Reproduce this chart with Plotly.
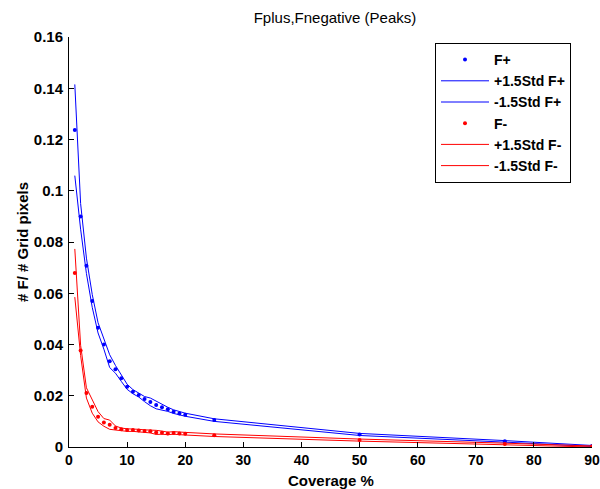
import plotly.graph_objects as go

coverage = [1, 2, 3, 4, 5, 6, 7, 8, 9, 10, 11, 12, 13, 14, 15, 16, 17, 18, 19, 20, 25, 50, 75, 90]

fplus = [0.1237, 0.0900, 0.0707, 0.0570, 0.0465, 0.0400, 0.0335, 0.0303, 0.0268, 0.0235,
         0.0216, 0.0203, 0.0187, 0.0176, 0.0164, 0.0155, 0.0147, 0.0138, 0.0131, 0.0126,
         0.0105, 0.0049, 0.0022, 0.0004]
fplus_up = [0.1415, 0.0950, 0.0737, 0.0595, 0.0485, 0.0418, 0.0360, 0.0318, 0.0280, 0.0245,
            0.0224, 0.0211, 0.0197, 0.0191, 0.0179, 0.0165, 0.0155, 0.0145, 0.0138, 0.0132,
            0.0110, 0.0053, 0.0025, 0.0006]
fplus_lo = [0.1059, 0.0850, 0.0677, 0.0545, 0.0445, 0.0382, 0.0310, 0.0288, 0.0256, 0.0225,
            0.0208, 0.0195, 0.0177, 0.0161, 0.0149, 0.0145, 0.0139, 0.0131, 0.0124, 0.0120,
            0.0100, 0.0045, 0.0019, 0.0002]

fneg = [0.0679, 0.0377, 0.0211, 0.0157, 0.0118, 0.0096, 0.0087, 0.0074, 0.0069, 0.0066,
        0.0066, 0.0064, 0.0062, 0.0061, 0.0057, 0.0056, 0.0053, 0.0055, 0.0053, 0.0052,
        0.0046, 0.0027, 0.0012, 0.0002]
fneg_up = [0.0773, 0.0397, 0.0231, 0.0182, 0.0138, 0.0111, 0.0105, 0.0082, 0.0074, 0.0071,
           0.0071, 0.0069, 0.0067, 0.0067, 0.0065, 0.0062, 0.0058, 0.0060, 0.0058, 0.0057,
           0.0051, 0.0031, 0.0015, 0.0004]
fneg_lo = [0.0585, 0.0357, 0.0191, 0.0132, 0.0098, 0.0081, 0.0069, 0.0066, 0.0064, 0.0061,
           0.0061, 0.0059, 0.0057, 0.0055, 0.0049, 0.0050, 0.0048, 0.0050, 0.0048, 0.0047,
           0.0041, 0.0023, 0.0009, 0.0000]

x_ticks = [0, 10, 20, 30, 40, 50, 60, 70, 80, 90]
y_ticks = [0, 0.02, 0.04, 0.06, 0.08, 0.1, 0.12, 0.14, 0.16]
y_tick_text = ["0", "0.02", "0.04", "0.06", "0.08", "0.1", "0.12", "0.14", "0.16"]

BLUE = "#0000ff"
RED = "#ff0000"
FONT = "Liberation Sans, Arial, sans-serif"

fig = go.Figure()
fig.add_trace(go.Scatter(x=coverage, y=fplus, mode="markers", name="F+",
                         marker=dict(color=BLUE, size=4)))
fig.add_trace(go.Scatter(x=coverage, y=fplus_up, mode="lines", name="+1.5Std F+",
                         line=dict(color=BLUE, width=1)))
fig.add_trace(go.Scatter(x=coverage, y=fplus_lo, mode="lines", name="-1.5Std F+",
                         line=dict(color=BLUE, width=1)))
fig.add_trace(go.Scatter(x=coverage, y=fneg, mode="markers", name="F-",
                         marker=dict(color=RED, size=4)))
fig.add_trace(go.Scatter(x=coverage, y=fneg_up, mode="lines", name="+1.5Std F-",
                         line=dict(color=RED, width=1)))
fig.add_trace(go.Scatter(x=coverage, y=fneg_lo, mode="lines", name="-1.5Std F-",
                         line=dict(color=RED, width=1)))

fig.update_layout(
    width=600, height=489,
    margin=dict(l=69, r=8, t=37, b=42),
    paper_bgcolor="white", plot_bgcolor="white",
    title=dict(text="Fplus,Fnegative (Peaks)", x=335 / 600, xanchor="center",
               y=1 - 18 / 489, yanchor="middle",
               font=dict(family=FONT, size=15, color="black")),
    font=dict(family=FONT, color="black"),
    showlegend=True,
    legend=dict(x=(435 - 69) / 523, y=(447 - 43) / 410, xanchor="left", yanchor="top",
                bordercolor="black", borderwidth=1, bgcolor="white",
                font=dict(family=FONT, size=14, color="black", weight="bold"),
                tracegroupgap=0, itemwidth=48),
    annotations=[
        dict(text="Coverage %", xref="paper", yref="paper", x=0.5, y=-(480 - 447) / 410,
             xanchor="center", yanchor="middle", showarrow=False,
             font=dict(family=FONT, size=15, color="black", weight="bold")),
        dict(text="# F/ # Grid pixels", xref="paper", yref="paper", x=-(69 - 22) / 523,
             y=0.5, xanchor="center", yanchor="middle", textangle=-90, showarrow=False,
             font=dict(family=FONT, size=15, color="black", weight="bold")),
    ],
)
fig.update_xaxes(range=[0, 90], tickvals=x_ticks, showgrid=False, zeroline=False,
                 showline=True, linecolor="black", linewidth=1, mirror=False,
                 ticks="inside", ticklen=5, tickcolor="black", automargin=False,
                 tickfont=dict(family=FONT, size=14, color="black", weight="bold"))
fig.update_yaxes(range=[0, 0.16], tickvals=y_ticks, ticktext=y_tick_text, showgrid=False,
                 zeroline=False, showline=True, linecolor="black", linewidth=1, mirror=False,
                 ticks="inside", ticklen=5, tickcolor="black", automargin=False,
                 tickfont=dict(family=FONT, size=15, color="black", weight="bold"),
                 ticklabelstandoff=2)

fig.write_html("out.html", config={"displayModeBar": False},
               post_script="document.body.style.margin='0';document.body.style.overflow='hidden';")
